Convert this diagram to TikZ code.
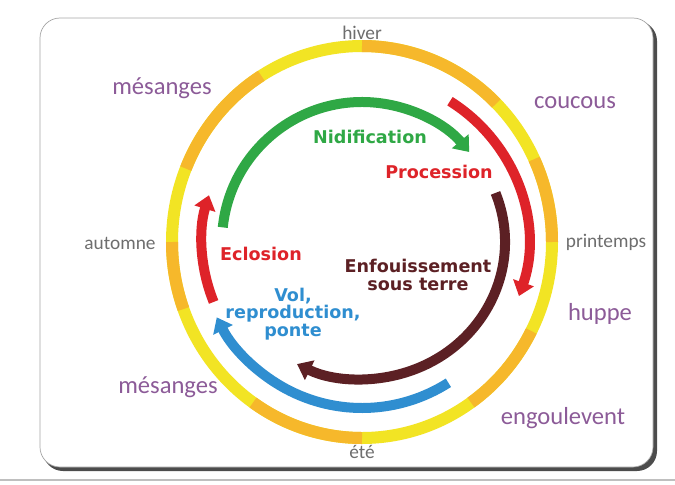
\documentclass[tikz,border=0pt]{standalone}
\usepackage{fontspec}
\setmainfont{Carlito}
\newfontfamily\heavyfont{DejaVu Sans}
\usetikzlibrary{arrows.meta}
\definecolor{ringyellow}{HTML}{F2E424}
\definecolor{ringorange}{HTML}{F6B82B}
\definecolor{nidgreen}{HTML}{2FA845}
\definecolor{procred}{HTML}{DE2329}
\definecolor{earthbrown}{HTML}{5C2024}
\definecolor{volblue}{HTML}{2F8ED0}
\definecolor{birdpurple}{HTML}{8C5B98}
\definecolor{seasongray}{HTML}{6E6E6E}
\tikzstyle{season} = [font=\fontsize{11pt}{11pt}\selectfont, text=seasongray]
\tikzstyle{bird} = [font=\fontsize{14pt}{14pt}\selectfont, text=birdpurple]
\tikzstyle{stage} = [font=\heavyfont\bfseries\fontsize{10pt}{10pt}\selectfont, align=center]
\tikzstyle{seasonring} = [line width=0.24cm]
\tikzstyle{stagearc} = [line width=0.2cm, -{Triangle[length=8pt,width=12pt]}]

\begin{document}
\begin{tikzpicture}[x=0.02cm, y=0.02cm]
\useasboundingbox (-362,-242) rectangle (313,242);
%background
\draw[line width=0.6pt, black!25] (-362,-238) -- (313,-238);
\fill[black!70, rounded corners=0.4cm] (-319,-229) rectangle (295,221);
\draw[fill=white, draw=black!35, rounded corners=0.4cm] (-322,-225) rectangle (291,224);

%ring of seasons
\draw[seasonring, ringyellow] (0,0) ellipse [x radius=190, y radius=196];
\foreach \a/\b in {45/90, 0/25, -55/-27, 235/270, 180/200, 122/158}
  \draw[seasonring, ringorange] (\a:190 and 196) arc[start angle=\a, end angle=\b, x radius=190, y radius=196];

%seasons
\node[season] (hiver) at (0,209) {hiver};
\node[season] (printemps) at (244,0) {printemps};
\node[season] (ete) at (0,-210) {été};
\node[season] (automne) at (-242,-1) {automne};

%birds
\node[bird] (mesangesA) at (-200,154) {mésanges};
\node[bird] (coucous) at (213,139) {coucous};
\node[bird] (huppe) at (238,-72) {huppe};
\node[bird] (engoulevent) at (201,-176) {engoulevent};
\node[bird] (mesangesB) at (-194,-145) {mésanges};

%stages
\node[stage, text=nidgreen] (nid) at (8,105) {Nidification};
\node[stage, text=procred] (proc) at (77,70) {Procession};
\node[stage, text=earthbrown] (enf) at (56,-33) {Enfouissement\\sous terre};
\node[stage, text=volblue] (vol) at (-69,-72) {Vol,\\reproduction,\\ponte};
\node[stage, text=procred] (ecl) at (-101,-12) {Eclosion};

%arcs
\draw[stagearc, nidgreen] (174:140) arc[start angle=174, end angle=40, radius=140];
\draw[stagearc, procred] (58:166) arc[start angle=58, end angle=-19, radius=166];
\draw[stagearc, earthbrown] (21:143 and 137) arc[start angle=21, end angle=-117, x radius=143, y radius=137];
\draw[stagearc, volblue] (-58:163 and 166) arc[start angle=-58, end angle=-153, x radius=163, y radius=166];
\draw[stagearc, procred] (202:160) arc[start angle=202, end angle=163, radius=160];
\end{tikzpicture}
\end{document}
